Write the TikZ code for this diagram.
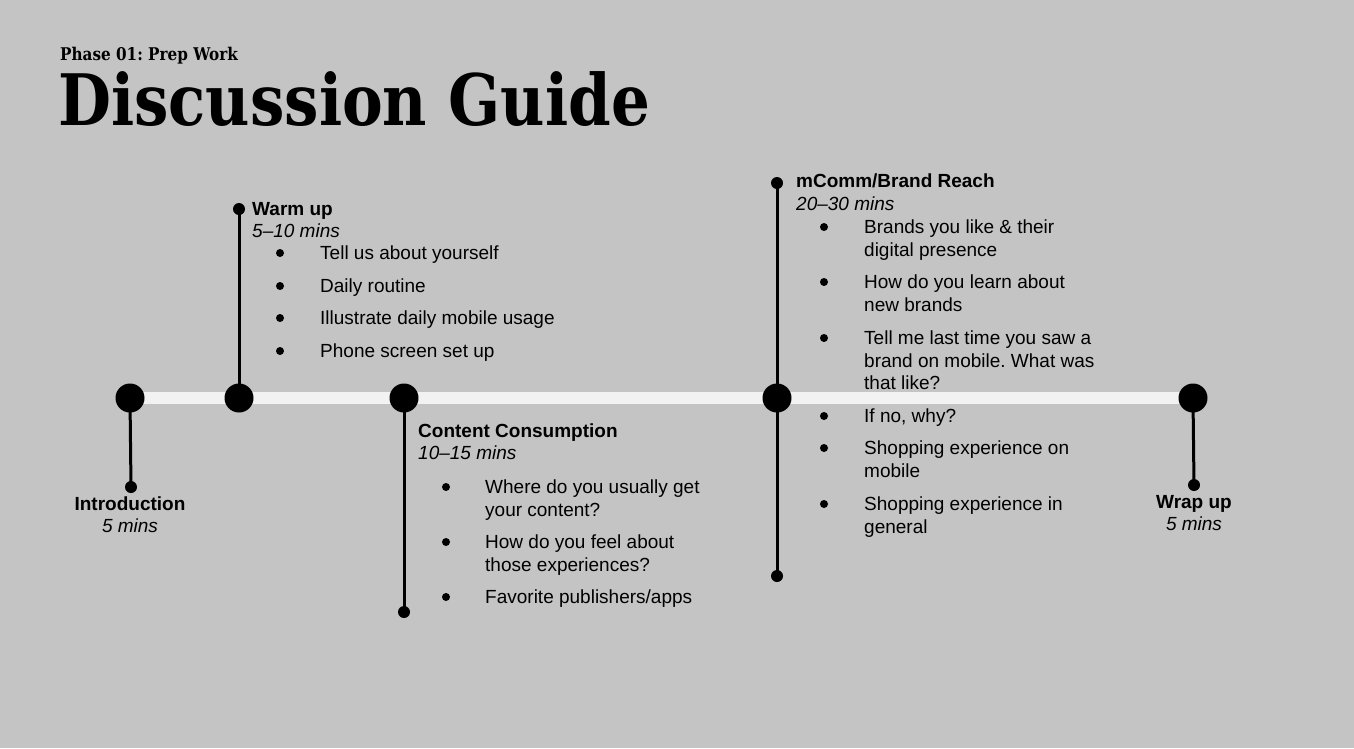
\documentclass[tikz,border=0pt]{standalone}
\usepackage{fontspec}
\setmainfont{Liberation Sans}
\newfontfamily\titlefont{DejaVu Serif}
\frenchspacing
\definecolor{bg}{HTML}{C4C4C4}
\definecolor{rail}{HTML}{F2F2F2}
\tikzset{
  stem/.style={line width=3pt, black},
  bigdot/.style={circle, fill=black, minimum size=29pt, inner sep=0pt},
  smalldot/.style={circle, fill=black, minimum size=12pt, inner sep=0pt},
  bul/.style={circle, fill=black, minimum size=8pt, inner sep=0pt},
  head/.style={font=\fontsize{19}{22.5}\selectfont\bfseries, inner sep=0pt},
  dur/.style={font=\fontsize{19}{22.5}\selectfont\itshape, inner sep=0pt},
  itm/.style={font=\fontsize{19}{22.5}\selectfont, inner sep=0pt, anchor=north west, align=left},
}
\begin{document}
\begin{tikzpicture}[x=1pt,y=-1pt]
\fill[bg] (0,0) rectangle (1354,748);
\useasboundingbox (0,0) rectangle (1354,748);

% title
\node[anchor=base west, inner sep=0pt, font=\titlefont\bfseries\fontsize{17.5}{20}\selectfont] (phase) at (60,60) {\scalebox{0.87}[1]{Phase 01: Prep Work}};
\node[anchor=base west, inner sep=0pt, font=\titlefont\bfseries\fontsize{71}{80}\selectfont] (title) at (58,125) {\scalebox{0.86}[1]{Discussion Guide}};

% rail
\coordinate (r0) at (130,398);
\coordinate (r1) at (1193,398);
\draw[rail, line width=12pt] (r0) -- (r1);

% main dots
\node[bigdot] (d1) at (130,398) {};
\node[bigdot] (d2) at (239,398) {};
\node[bigdot] (d3) at (404,398) {};
\node[bigdot] (d4) at (777,398) {};
\node[bigdot] (d5) at (1193,398) {};

% end dots
\node[smalldot] (e1) at (131,487) {};
\node[smalldot] (e2) at (239,209) {};
\node[smalldot] (e3) at (404,612) {};
\node[smalldot] (e4a) at (777,183) {};
\node[smalldot] (e4b) at (777,576) {};
\node[smalldot] (e5) at (1194,485) {};

\draw[stem] (d1.center) -- (e1.center);
\draw[stem] (d2.center) -- (e2.center);
\draw[stem] (d3.center) -- (e3.center);
\draw[stem] (e4a.center) -- (e4b.center);
\draw[stem] (d5.center) -- (e5.center);

% Introduction
\node[head, anchor=base] (h1) at (130,510.8) {Introduction};
\node[dur, anchor=base] (t1) at (130,532.8) {5 mins};

% Warm up
\node[head, anchor=base west] (h2) at (252,215.8) {Warm up};
\node[dur, anchor=base west] (t2) at (252,237.8) {5--10 mins};
\foreach \y/\txt [count=\i] in {253/Tell us about yourself, 286/Daily routine, 318/Illustrate daily mobile usage, 351/Phone screen set up}{
  \node[bul] (wb\i) at (280,\y) {};
  \node[itm] (wi\i) at (320,\y-9) {\strut\txt};
}

% Content Consumption
\node[head, anchor=base west] (h3) at (418,437.8) {Content Consumption};
\node[dur, anchor=base west] (t3) at (418,459.8) {10--15 mins};
\node[bul] (cb1) at (446,487) {};
\node[itm] (ci1) at (485,487-9) {\strut Where do you usually get\\your content?};
\node[bul] (cb2) at (446,542) {};
\node[itm] (ci2) at (485,542-9) {\strut How do you feel about\\those experiences?};
\node[bul] (cb3) at (446,597) {};
\node[itm] (ci3) at (485,597-9) {\strut Favorite publishers/apps};

% mComm
\node[head, anchor=base west] (h4) at (796,187.8) {mComm/Brand Reach};
\node[dur, anchor=base west] (t4) at (796,210.8) {20--30 mins};
\node[bul] (mb1) at (824,227) {};
\node[itm] (mi1) at (864,227-9) {\strut Brands you like \& their\\digital presence};
\node[bul] (mb2) at (824,282) {};
\node[itm] (mi2) at (864,282-9) {\strut How do you learn about\\new brands};
\node[bul] (mb3) at (824,338) {};
\node[itm] (mi3) at (864,338-9) {\strut Tell me last time you saw a\\brand on mobile. What was\\that like?};
\node[bul] (mb4) at (824,416) {};
\node[itm] (mi4) at (864,416-9) {\strut If no, why?};
\node[bul] (mb5) at (824,448) {};
\node[itm] (mi5) at (864,448-9) {\strut Shopping experience on\\mobile};
\node[bul] (mb6) at (824,504) {};
\node[itm] (mi6) at (864,504-9) {\strut Shopping experience in\\general};

% Wrap up
\node[head, anchor=base] (h5) at (1194,508.8) {Wrap up};
\node[dur, anchor=base] (t5) at (1194,530.8) {5 mins};
\end{tikzpicture}
\end{document}
